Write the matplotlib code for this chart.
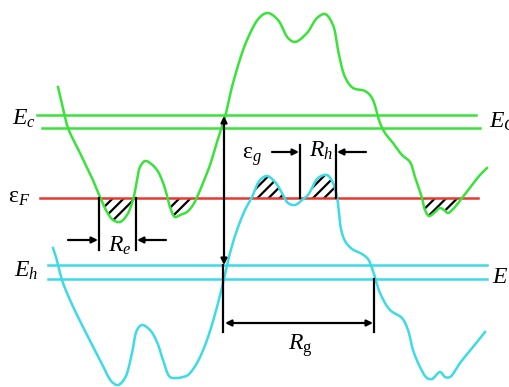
import numpy as np
import matplotlib
matplotlib.use("Agg")
import matplotlib.pyplot as plt

plt.rcParams['mathtext.fontset'] = 'custom'
plt.rcParams['mathtext.rm'] = 'Liberation Serif'
plt.rcParams['mathtext.it'] = 'Liberation Serif:italic'
plt.rcParams['hatch.linewidth'] = 1.6

GREEN = '#3ae23a'
CYAN = '#3cdbe6'
RED = '#e53a32'

# energy levels (pixel rows)
E_c = [115, 128]
E_F = 198
E_h = [265, 279]

# conduction band edge
cb_x = [58, 63, 68, 80, 92, 100, 107, 113, 120, 127, 133, 137, 140, 145, 150, 157, 162, 166,
        170, 175, 180, 187, 193, 198, 203, 210, 217, 225, 233, 247, 260, 268, 278, 288, 295,
        307, 317, 325, 333, 338, 345, 353, 365, 372, 380, 385, 393, 402, 410, 415, 422, 425,
        429, 434, 440, 444, 448, 454, 462, 472, 480, 487]
cb_y = [87, 108, 128, 153, 178, 197, 212, 220, 222, 215, 200, 180, 167, 161, 163, 170, 180, 192,
        207, 217, 215, 212, 205, 195, 183, 165, 142, 117, 83, 40, 17, 13, 20, 38, 42,
        33, 18, 14, 25, 50, 77, 88, 91, 98, 123, 133, 143, 155, 162, 177, 198, 210,
        216, 213, 208, 210, 213, 208, 198, 185, 175, 168]

# valence band edge
vb_x = [53, 56, 62, 70, 83, 100, 112, 118, 125, 132, 137, 142, 150, 157, 163, 170, 177, 183,
        188, 197, 207, 217, 223, 230, 237, 245, 252, 260, 267, 275, 282, 288, 295, 302, 308,
        318, 327, 333, 337, 339, 341, 345, 352, 362, 368, 373, 380, 390, 402, 408, 413, 420, 427,
        432, 440, 445, 450, 460, 473, 485]
vb_y = [248, 257, 280, 300, 327, 360, 382, 385, 378, 353, 330, 325, 330, 342, 360, 377, 378, 377,
        375, 363, 340, 307, 283, 253, 230, 210, 197, 180, 176, 182, 193, 203, 205, 200, 195,
        178, 175, 183, 197, 213, 229, 241, 249, 254, 259, 271, 293, 310, 318, 330, 350, 367, 378,
        379, 372, 377, 377, 363, 347, 332]


def smooth(xp, yp, n=12):
    # centripetal Catmull-Rom through the given points
    p = np.column_stack([xp, yp]).astype(float)
    p = np.vstack([2 * p[0] - p[1], p, 2 * p[-1] - p[-2]])
    out = []
    for i in range(1, len(p) - 2):
        p0, p1, p2, p3 = p[i - 1], p[i], p[i + 1], p[i + 2]
        t0 = 0.0
        t1 = t0 + np.linalg.norm(p1 - p0) ** 0.5
        t2 = t1 + np.linalg.norm(p2 - p1) ** 0.5
        t3 = t2 + np.linalg.norm(p3 - p2) ** 0.5
        t = np.linspace(t1, t2, n, endpoint=False)[:, None]
        a1 = (t1 - t) / (t1 - t0) * p0 + (t - t0) / (t1 - t0) * p1
        a2 = (t2 - t) / (t2 - t1) * p1 + (t - t1) / (t2 - t1) * p2
        a3 = (t3 - t) / (t3 - t2) * p2 + (t - t2) / (t3 - t2) * p3
        b1 = (t2 - t) / (t2 - t0) * a1 + (t - t0) / (t2 - t0) * a2
        b2 = (t3 - t) / (t3 - t1) * a2 + (t - t1) / (t3 - t1) * a3
        out.append((t2 - t) / (t2 - t1) * b1 + (t - t1) / (t2 - t1) * b2)
    out.append(p[-2][None, :])
    c = np.vstack(out)
    return c[:, 0], c[:, 1]


fig = plt.figure(figsize=(5.1, 3.87), dpi=100)
ax = fig.add_axes([0, 0, 1, 1])
ax.set_xlim(0, 510)
ax.set_ylim(387, 0)
ax.axis('off')

# level lines
ax.plot([37, 476], [E_c[0]] * 2, color=GREEN, lw=1.8)
ax.plot([42, 480], [E_c[1]] * 2, color=GREEN, lw=1.8)
ax.plot([48, 487], [E_h[0]] * 2, color=CYAN, lw=1.8)
ax.plot([48, 487], [E_h[1]] * 2, color=CYAN, lw=1.8)

cbx, cby = smooth(cb_x, cb_y)
vbx, vby = smooth(vb_x, vb_y)

# filled pockets below / above Fermi level
xs = np.linspace(40, 480, 3000)
cb = np.interp(xs, cbx, cby)
vb = np.interp(xs, vbx, vby)
ax.fill_between(xs, E_F, cb, where=cb > E_F, facecolor='none', edgecolor='black',
                hatch='///', linewidth=0)
ax.fill_between(xs, E_F, vb, where=vb < E_F, facecolor='none', edgecolor='black',
                hatch='///', linewidth=0)

ax.plot([40, 478], [E_F, E_F], color=RED, lw=1.8)
ax.plot(cbx, cby, color=GREEN, lw=1.8, solid_joinstyle='round')
ax.plot(vbx, vby, color=CYAN, lw=1.8, solid_joinstyle='round')

# dimension lines
def vline(x, y0, y1):
    ax.plot([x, x], [y0, y1], color='black', lw=1.6)

def arrow(x0, y0, x1, y1, style='-|>'):
    ax.annotate('', xy=(x1, y1), xytext=(x0, y0),
                arrowprops=dict(arrowstyle=style, color='black', lw=1.6,
                                mutation_scale=9, shrinkA=0, shrinkB=0))

# band gap
arrow(224, 190, 224, 116)
arrow(224, 190, 224, 265)
vline(223, 265, 332)
vline(374, 279, 332)
arrow(225, 323, 373, 323, '<|-|>')

# electron pocket width
vline(99, E_F, 250)
vline(136, E_F, 250)
arrow(68, 240, 98, 240)
arrow(166, 240, 137, 240)

# hole pocket width
vline(300, 145, E_F)
vline(336, 145, E_F)
arrow(272, 152, 299, 152)
arrow(366, 152, 337, 152)

fs = 17
ax.text(12, 118, r'$E_c$', fontsize=fs, va='center', ha='left')
ax.text(489, 121, r'$E_C$', fontsize=fs, va='center', ha='left')
ax.text(8, 196, r'$\mathrm{\varepsilon}_F$', fontsize=fs, va='center', ha='left')
ax.text(14, 270, r'$E_h$', fontsize=fs, va='center', ha='left')
ax.text(492, 276, r'$E$', fontsize=fs, va='center', ha='left')
ax.text(242, 156, r'$\mathrm{\varepsilon}_g$', fontsize=fs, va='center', ha='left')
ax.text(309, 150, r'$R_h$', fontsize=fs, va='center', ha='left')
ax.text(108, 245, r'$R_e$', fontsize=fs, va='center', ha='left')
ax.text(288, 346, r'$R_\mathrm{g}$', fontsize=fs, va='center', ha='left')

fig.savefig('out.png', dpi=100)
